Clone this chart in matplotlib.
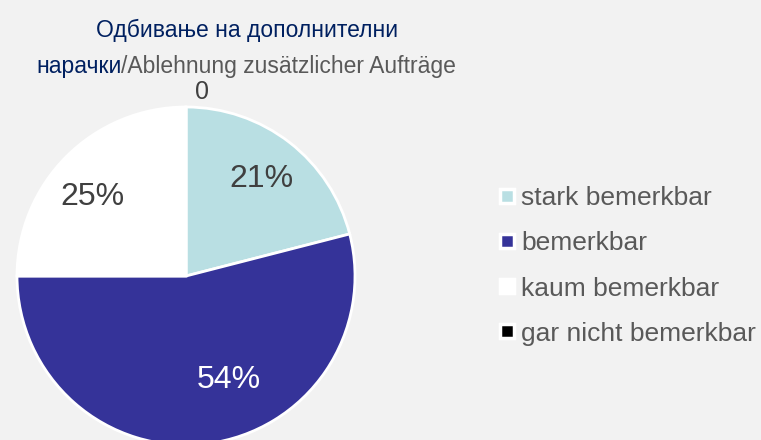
import numpy as np
import matplotlib
matplotlib.use("Agg")
from matplotlib import pyplot as plt
from matplotlib.lines import Line2D

# data
categories = ["stark bemerkbar", "bemerkbar", "kaum bemerkbar", "gar nicht bemerkbar"]
values = [21, 54, 25, 0]
title_mk_1 = "Одбивање на дополнителни"
title_mk_2 = "нарачки"
title_de = "/Ablehnung zusätzlicher Aufträge"

colors = ["#b9dfe3", "#353399", "#ffffff", "#000000"]
label_colors = ["#404040", "#ffffff", "#404040", "#404040"]
bg = "#f2f2f2"
fonts = ["Liberation Sans", "DejaVu Sans"]

W, H = 761, 440
fig = plt.figure(figsize=(W / 100, H / 100), dpi=100, facecolor=bg)

# pie axes: center (186, 276) px, radius 169 px
cx, cy, r = 186, 276, 169
ax = fig.add_axes([(cx - r) / W, (H - cy - r) / H, 2 * r / W, 2 * r / H])
ax.set_facecolor(bg)
ax.axis("off")

wedges, _ = ax.pie(values, colors=colors, startangle=90, counterclock=False,
                   radius=1, wedgeprops=dict(edgecolor="white", linewidth=2))
ax.set_xlim(-1, 1)
ax.set_ylim(-1, 1)
ax.set_aspect("equal")

# labels from wedge angles
for w, v, c in zip(wedges, values, label_colors):
    ang = np.deg2rad((w.theta1 + w.theta2) / 2)
    if v == 0:
        ax.text(0.055, 1.09, "0", ha="left", va="center", fontsize=18,
                color="#404040", family=fonts, clip_on=False)
        continue
    d = 0.73
    x, y = d * np.cos(ang), d * np.sin(ang)
    if v == 54:
        # excel nudges this one toward the middle
        x += 0.16
        y += 0.11
    elif v == 25:
        x -= 0.04
        y -= 0.05
    ax.text(x, y, "%d%%" % v, ha="center", va="center", fontsize=23,
            color=c, family=fonts)

# title, two colours
tsize = 16.5
t1 = fig.text(247 / W, 1 - 37 / H, title_mk_1, ha="center", va="baseline",
              fontsize=tsize, color="#002060", family=fonts)
ta = fig.text(0, 1 - 73 / H, title_mk_2, ha="right", va="baseline",
              fontsize=tsize, color="#002060", family=fonts)
tb = fig.text(0, 1 - 73 / H, title_de, ha="left", va="baseline",
              fontsize=tsize, color="#595959", family=fonts)
rend = fig.canvas.get_renderer()
wa = ta.get_window_extent(rend).width
wb = tb.get_window_extent(rend).width
x0 = 246 + (wa - wb) / 2
ta.set_x(x0 / W)
tb.set_x(x0 / W)

# legend
handles = [Line2D([], [], marker="s", linestyle="none", markersize=9.5,
                  markerfacecolor=c, markeredgecolor="white",
                  markeredgewidth=2.5) for c in colors]
leg = fig.legend(handles, categories, loc="center left",
                 bbox_to_anchor=(499 / W, 1 - 266 / H), frameon=False,
                 handlelength=0.6, handletextpad=0.25, labelspacing=0.8,
                 borderpad=0, borderaxespad=0, labelcolor="#595959",
                 prop=dict(family=fonts, size=19))

fig.savefig("out.png", dpi=100, facecolor=bg)
